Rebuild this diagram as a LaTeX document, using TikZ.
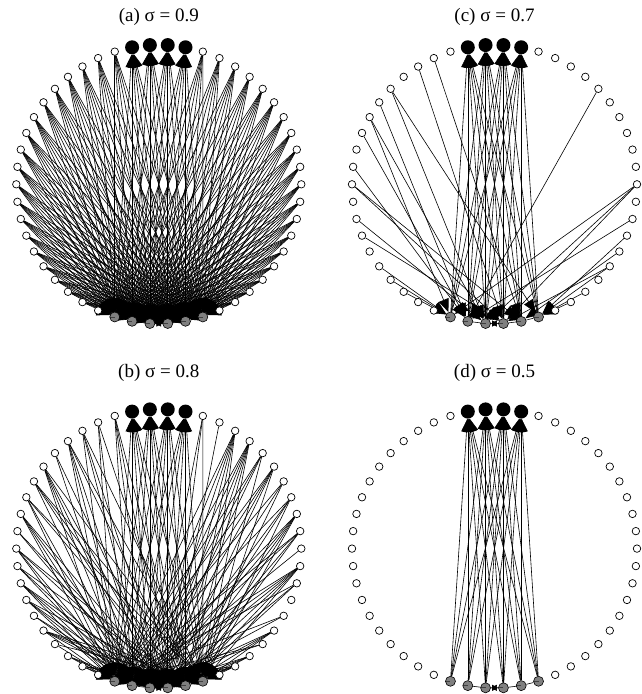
\documentclass[tikz,border=0pt]{standalone}
\usepackage{fontspec}
\setmainfont{Liberation Serif}
\usetikzlibrary{arrows.meta}
\definecolor{netGrey}{RGB}{128,128,128}
\pgfdeclarelayer{edges}
\pgfsetlayers{edges,main}

\begin{document}
\begin{tikzpicture}[x=1pt,y=-1pt,
  whitenode/.style={circle,draw,fill=white,minimum size=7.5pt,inner sep=0pt,line width=0.7pt},
  greynode/.style={circle,draw,fill=netGrey,minimum size=10pt,inner sep=0pt,line width=0.6pt,
    path picture={\draw[line width=0.8pt,black!75] (path picture bounding box.west) -- (path picture bounding box.center);}},
  blacknode/.style={circle,fill=black,minimum size=14pt,inner sep=0pt},
  arc/.style={-{Triangle[length=13pt,width=10.5pt]},line width=0.6pt},
  link/.style={line width=0.6pt},
  caption/.style={font=\fontsize{19}{22}\selectfont}
]
  \useasboundingbox (0,0) rectangle (641,694);

  % titles
  \node[caption] (capa) at (158.8,17) {(a) σ = 0.9};
  \node[caption] (capb) at (158.8,373) {(b) σ = 0.8};
  \node[caption] (capc) at (494.5,17) {(c) σ = 0.7};
  \node[caption] (capd) at (494.5,373) {(d) σ = 0.5};

  % 50 vertices on a circle in every panel
  \foreach \p/\cx/\cy in {a/158.8/184.3,b/158.8/548.6,c/494.5/184.3,d/494.5/548.6}{
    \foreach \k in {1,...,20}{
      \node[whitenode] (\p L\k) at ({\cx+142.5*cos(100.8+7.2*\k)},{\cy-139.5*sin(100.8+7.2*\k)}) {};
      \node[whitenode] (\p R\k) at ({\cx+142.5*cos(79.2-7.2*\k)},{\cy-139.5*sin(79.2-7.2*\k)}) {};
    }
    \foreach \k in {1,...,4}
      \node[blacknode] (\p B\k) at ({\cx+142.5*cos(108-7.2*\k)},{\cy-139.5*sin(108-7.2*\k)}) {};
    \foreach \k in {1,...,6}
      \node[greynode] (\p G\k) at ({\cx+142.5*cos(244.8+7.2*\k)},{\cy-139.5*sin(244.8+7.2*\k)}) {};
  }

  \begin{pgfonlayer}{edges}
    % grey to black, and the grey chain
    \foreach \p in {a,b,c,d}{
      \foreach \j in {1,...,6}
        \foreach \k in {1,...,4}
          \draw[arc] (\p G\j) -- (\p B\k);
      \draw[link] (\p G2) -- (\p G3) (\p G4) -- (\p G5) -- (\p G6);
      \draw[link,{Triangle[length=6pt,width=6pt]}-{Triangle[length=6pt,width=6pt]}] (\p G3) -- (\p G4);
    }
    % (a) every white vertex to every grey one
    \foreach \s in {L,R}
      \foreach \k in {1,...,20}
        \foreach \j in {1,...,6}
          \draw[arc] (a\s\k) -- (aG\j);
    % (b) most of them
    \pgfmathsetseed{11}
    \foreach \k in {1,...,20}
      \foreach \j in {1,...,6}{
        \pgfmathsetmacro{\u}{rnd}
        \ifdim\u pt<0.6pt \draw[arc] (bL\k) -- (bG\j); \fi
        \pgfmathsetmacro{\u}{rnd}
        \ifnum\k=14 \else
          \ifdim\u pt<0.6pt \draw[arc] (bR\k) -- (bG\j); \fi
        \fi
      }
    % (c) a few of them
    \foreach \w/\g in {L2/5,L3/4,L5/3,L5/6,L6/2,L7/1,L7/3,L8/2,L10/2,L11/4,L11/5,L13/3,L14/4,L16/1,L17/1,L18/1,
                       R5/2,R11/1,R11/3,R11/4,R13/2,R14/6,R15/5,R16/4,R16/6,R18/6,R19/6}
      \draw[arc] (c\w) -- (cG\g);
  \end{pgfonlayer}
\end{tikzpicture}
\end{document}
